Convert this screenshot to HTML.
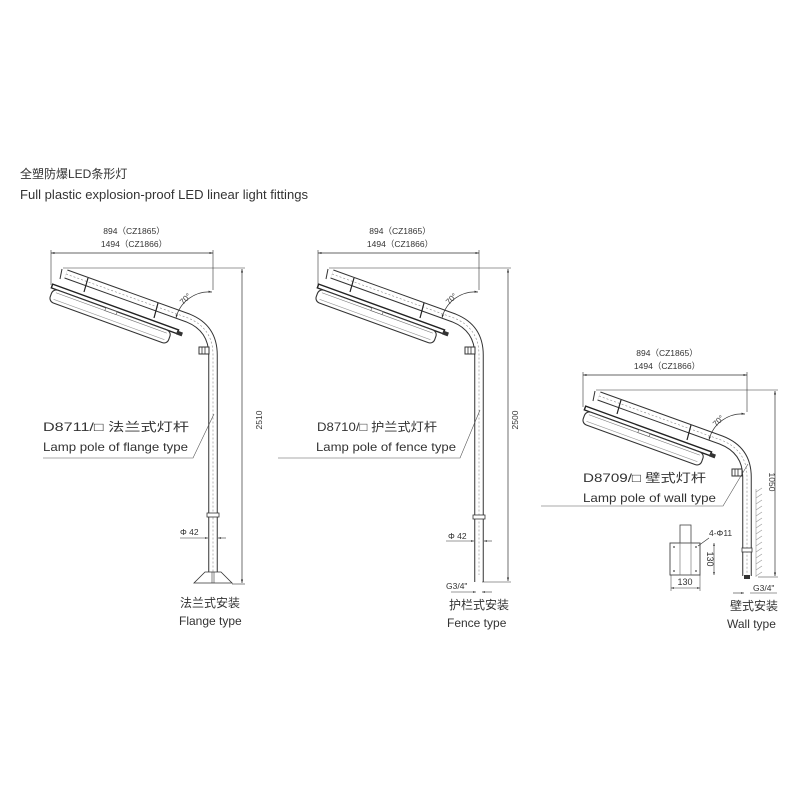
<!DOCTYPE html>
<html><head><meta charset="utf-8"><style>
html,body{margin:0;padding:0;background:#fff}
svg{display:block}
text{font-family:"Liberation Sans","Noto Sans CJK SC",sans-serif;fill:#333}
</style></head><body>
<svg width="800" height="800" viewBox="0 0 800 800" xmlns="http://www.w3.org/2000/svg">
<defs>
<marker id="ar" viewBox="0 0 10 10" refX="10" refY="5" markerWidth="7" markerHeight="5" orient="auto-start-reverse"><path d="M0,2 L10,5 L0,8 z" fill="#333"/></marker>
<g id="head">
  <g transform="rotate(20 52 286)">
    <rect x="52" y="284" width="134" height="4" fill="#fff" stroke="#222" stroke-width="1.4"/>
    <rect x="54" y="288" width="126" height="13.5" rx="5" fill="#fff" stroke="#333" stroke-width="1.1"/>
    <line x1="58" y1="291" x2="176" y2="291" stroke="#777" stroke-width="0.6"/>
    <line x1="58" y1="298" x2="176" y2="298" stroke="#999" stroke-width="0.6"/>
    <rect x="185" y="285" width="6" height="4" fill="#333"/>
    <rect x="110" y="288" width="12" height="3" fill="#fff" stroke="#555" stroke-width="0.6"/>
  </g>
  <line x1="88" y1="278" x2="84" y2="292" stroke="#222" stroke-width="1.2"/>
  <line x1="158" y1="303" x2="154" y2="318" stroke="#222" stroke-width="1.2"/>
  <path d="M176,318 A34,34 0 0 1 212,292" fill="none" stroke="#333" stroke-width="0.7" marker-end="url(#ar)" marker-start="url(#ar)"/>
  <text x="0" y="0" font-size="8" transform="translate(183,305) rotate(-45)">70°</text>
  <rect x="199" y="347" width="10" height="7" fill="#fff" stroke="#333" stroke-width="1"/>
  <line x1="202" y1="347" x2="202" y2="354" stroke="#333" stroke-width="0.8"/>
  <line x1="205" y1="347" x2="205" y2="354" stroke="#333" stroke-width="0.8"/>
</g>
</defs>

<text x="20" y="178" font-size="12">全塑防爆LED条形灯</text>
<text x="20" y="199" font-size="13" textLength="288" lengthAdjust="spacingAndGlyphs">Full plastic explosion-proof LED linear light fittings</text>

<g>
<text x="134" y="234" font-size="8.5" text-anchor="middle">894（CZ1865）</text>
<text x="134" y="247" font-size="8.5" text-anchor="middle">1494（CZ1866）</text>
<line x1="51" y1="253" x2="213" y2="253" stroke="#333" stroke-width="0.7" marker-start="url(#ar)" marker-end="url(#ar)"/>
<line x1="51" y1="250" x2="51" y2="285" stroke="#333" stroke-width="0.6"/>
<line x1="213" y1="250" x2="213" y2="290" stroke="#333" stroke-width="0.6"/>
<path d="M66,274 L188,318 Q213,328 213,355 L213,572" fill="none" stroke="#333" stroke-width="9.5"/>
<path d="M66,274 L188,318 Q213,328 213,355 L213,572" fill="none" stroke="#fff" stroke-width="7.5"/>
<path d="M66,274 L188,318 Q213,328 213,355 L213,572" fill="none" stroke="#888" stroke-width="0.6" stroke-dasharray="2,2"/>
<line x1="62" y1="269" x2="60" y2="279" stroke="#333" stroke-width="1"/>
<use href="#head"/>
<rect x="207" y="513" width="12" height="4" fill="#fff" stroke="#333" stroke-width="0.8"/>
<path d="M205,572 L221,572 L232,583 L194,583 Z" fill="#fff" stroke="#333" stroke-width="0.8"/>
<line x1="212" y1="572" x2="212" y2="583" stroke="#333" stroke-width="0.6"/><line x1="214" y1="572" x2="214" y2="583" stroke="#333" stroke-width="0.6"/>
<line x1="63" y1="268" x2="245" y2="268" stroke="#333" stroke-width="0.6"/>
<line x1="232" y1="584" x2="245" y2="584" stroke="#333" stroke-width="0.6"/>
<line x1="242" y1="269" x2="242" y2="583" stroke="#333" stroke-width="0.7" marker-start="url(#ar)" marker-end="url(#ar)"/>
<text font-size="8.5" transform="translate(262,420) rotate(-90)" text-anchor="middle">2510</text>
<polyline points="214,414 193,458 43,458" fill="none" stroke="#555" stroke-width="0.6"/>
<text x="43" y="431" font-size="12" textLength="146" lengthAdjust="spacingAndGlyphs">D8711/□ 法兰式灯杆</text>
<text x="43" y="451" font-size="12" textLength="145" lengthAdjust="spacingAndGlyphs">Lamp pole of flange type</text>
<text x="180" y="535" font-size="8.5">Φ 42</text>
<line x1="180" y1="538" x2="208" y2="538" stroke="#333" stroke-width="0.6" marker-end="url(#ar)"/>
<line x1="226" y1="538" x2="218" y2="538" stroke="#333" stroke-width="0.6" marker-end="url(#ar)"/>
<text x="180" y="607" font-size="12">法兰式安装</text>
<text x="179" y="625" font-size="12">Flange type</text>
</g>

<g transform="translate(266,0)">
<text x="134" y="234" font-size="8.5" text-anchor="middle">894（CZ1865）</text>
<text x="134" y="247" font-size="8.5" text-anchor="middle">1494（CZ1866）</text>
<line x1="52" y1="253" x2="213" y2="253" stroke="#333" stroke-width="0.7" marker-start="url(#ar)" marker-end="url(#ar)"/>
<line x1="52" y1="250" x2="52" y2="285" stroke="#333" stroke-width="0.6"/>
<line x1="213" y1="250" x2="213" y2="290" stroke="#333" stroke-width="0.6"/>
<path d="M66,274 L188,318 Q213,328 213,355 L213,582" fill="none" stroke="#333" stroke-width="9.5"/>
<path d="M66,274 L188,318 Q213,328 213,355 L213,582" fill="none" stroke="#fff" stroke-width="7.5"/>
<path d="M66,274 L188,318 Q213,328 213,355 L213,575" fill="none" stroke="#888" stroke-width="0.6" stroke-dasharray="2,2"/>
<line x1="62" y1="269" x2="60" y2="279" stroke="#333" stroke-width="1"/>
<use href="#head"/>
<rect x="207" y="515" width="12" height="4" fill="#fff" stroke="#333" stroke-width="0.8"/>
<line x1="63" y1="268" x2="245" y2="268" stroke="#333" stroke-width="0.6"/>
<line x1="216" y1="582" x2="245" y2="582" stroke="#333" stroke-width="0.6"/>
<line x1="242" y1="269" x2="242" y2="581" stroke="#333" stroke-width="0.7" marker-start="url(#ar)" marker-end="url(#ar)"/>
<text font-size="8.5" transform="translate(252,420) rotate(-90)" text-anchor="middle">2500</text>
<polyline points="214,410 194,458 12,458" fill="none" stroke="#555" stroke-width="0.6"/>
<text x="51" y="431" font-size="12" textLength="120" lengthAdjust="spacingAndGlyphs">D8710/□ 护兰式灯杆</text>
<text x="50" y="451" font-size="12" textLength="140" lengthAdjust="spacingAndGlyphs">Lamp pole of fence type</text>
<text x="182" y="539" font-size="8.5">Φ 42</text>
<line x1="180" y1="541" x2="208" y2="541" stroke="#333" stroke-width="0.6" marker-end="url(#ar)"/>
<line x1="226" y1="541" x2="218" y2="541" stroke="#333" stroke-width="0.6" marker-end="url(#ar)"/>
<text x="180" y="589" font-size="8.5">G3/4"</text>
<line x1="185" y1="592" x2="210" y2="592" stroke="#333" stroke-width="0.6" marker-end="url(#ar)"/>
<line x1="226" y1="592" x2="216" y2="592" stroke="#333" stroke-width="0.6" marker-end="url(#ar)"/>
<text x="183" y="609" font-size="12">护栏式安装</text>
<text x="181" y="627" font-size="12">Fence type</text>
</g>

<g transform="translate(533,122)">
<text x="134" y="234" font-size="8.5" text-anchor="middle">894（CZ1865）</text>
<text x="134" y="247" font-size="8.5" text-anchor="middle">1494（CZ1866）</text>
<line x1="50" y1="253" x2="214" y2="253" stroke="#333" stroke-width="0.7" marker-start="url(#ar)" marker-end="url(#ar)"/>
<line x1="50" y1="250" x2="50" y2="285" stroke="#333" stroke-width="0.6"/>
<line x1="214" y1="250" x2="214" y2="290" stroke="#333" stroke-width="0.6"/>
<path d="M66,274 L188,318 Q214,328 214,355 L214,454" fill="none" stroke="#333" stroke-width="9.5"/>
<path d="M66,274 L188,318 Q214,328 214,355 L214,454" fill="none" stroke="#fff" stroke-width="7.5"/>
<path d="M66,274 L188,318 Q214,328 214,355 L214,454" fill="none" stroke="#888" stroke-width="0.6" stroke-dasharray="2,2"/>
<line x1="62" y1="269" x2="60" y2="279" stroke="#333" stroke-width="1"/>
<use href="#head"/>
<rect x="209" y="426" width="10" height="4" fill="#fff" stroke="#333" stroke-width="0.8"/>
<g stroke="#999" stroke-width="0.6">
<line x1="223" y1="367" x2="223" y2="455"/>
<path d="M223,370 l6,-4 M223,376 l6,-4 M223,382 l6,-4 M223,388 l6,-4 M223,394 l6,-4 M223,400 l6,-4 M223,406 l6,-4 M223,412 l6,-4 M223,418 l6,-4 M223,424 l6,-4 M223,430 l6,-4 M223,436 l6,-4 M223,442 l6,-4 M223,448 l6,-4 M223,454 l6,-4"/>
</g>
<rect x="211" y="453" width="6" height="4" fill="#333"/>
<line x1="63" y1="268" x2="245" y2="268" stroke="#333" stroke-width="0.6"/>
<line x1="225" y1="455" x2="245" y2="455" stroke="#333" stroke-width="0.6"/>
<line x1="242" y1="269" x2="242" y2="454" stroke="#333" stroke-width="0.7" marker-start="url(#ar)" marker-end="url(#ar)"/>
<text font-size="8.5" transform="translate(236,360) rotate(90)" text-anchor="middle">1050</text>
<polyline points="215,342 190,384 8,384" fill="none" stroke="#555" stroke-width="0.6"/>
<text x="50" y="360" font-size="12" textLength="123" lengthAdjust="spacingAndGlyphs">D8709/□ 壁式灯杆</text>
<text x="50" y="380" font-size="12" textLength="133" lengthAdjust="spacingAndGlyphs">Lamp pole of wall type</text>
<rect x="147" y="403" width="11" height="20" fill="#fff" stroke="#444" stroke-width="0.8"/>
<rect x="137" y="421" width="30" height="32" fill="#fff" stroke="#444" stroke-width="0.9"/>
<rect x="147" y="421" width="11" height="32" fill="none" stroke="#666" stroke-width="0.6"/>
<g fill="#444"><circle cx="141" cy="425" r="0.9"/><circle cx="163" cy="425" r="0.9"/><circle cx="141" cy="449" r="0.9"/><circle cx="163" cy="449" r="0.9"/></g>
<text x="176" y="414" font-size="8.5">4-Φ11</text>
<line x1="176" y1="416" x2="165" y2="424" stroke="#333" stroke-width="0.6"/>
<line x1="181" y1="421" x2="181" y2="453" stroke="#333" stroke-width="0.6" marker-start="url(#ar)" marker-end="url(#ar)"/>
<text font-size="9" transform="translate(174,437) rotate(90)" text-anchor="middle">130</text>
<line x1="138" y1="466" x2="167" y2="466" stroke="#333" stroke-width="0.6" marker-start="url(#ar)" marker-end="url(#ar)"/>
<line x1="138" y1="453" x2="138" y2="469" stroke="#333" stroke-width="0.5"/>
<line x1="167" y1="453" x2="167" y2="469" stroke="#333" stroke-width="0.5"/>
<text x="152" y="463" font-size="9" text-anchor="middle">130</text>
<text x="220" y="469" font-size="8.5">G3/4"</text>
<line x1="200" y1="471" x2="211" y2="471" stroke="#333" stroke-width="0.6" marker-end="url(#ar)"/>
<line x1="244" y1="471" x2="217" y2="471" stroke="#333" stroke-width="0.6"/>
<text x="197" y="488" font-size="12">壁式安装</text>
<text x="194" y="506" font-size="12">Wall type</text>
</g>
</svg>
</body></html>
